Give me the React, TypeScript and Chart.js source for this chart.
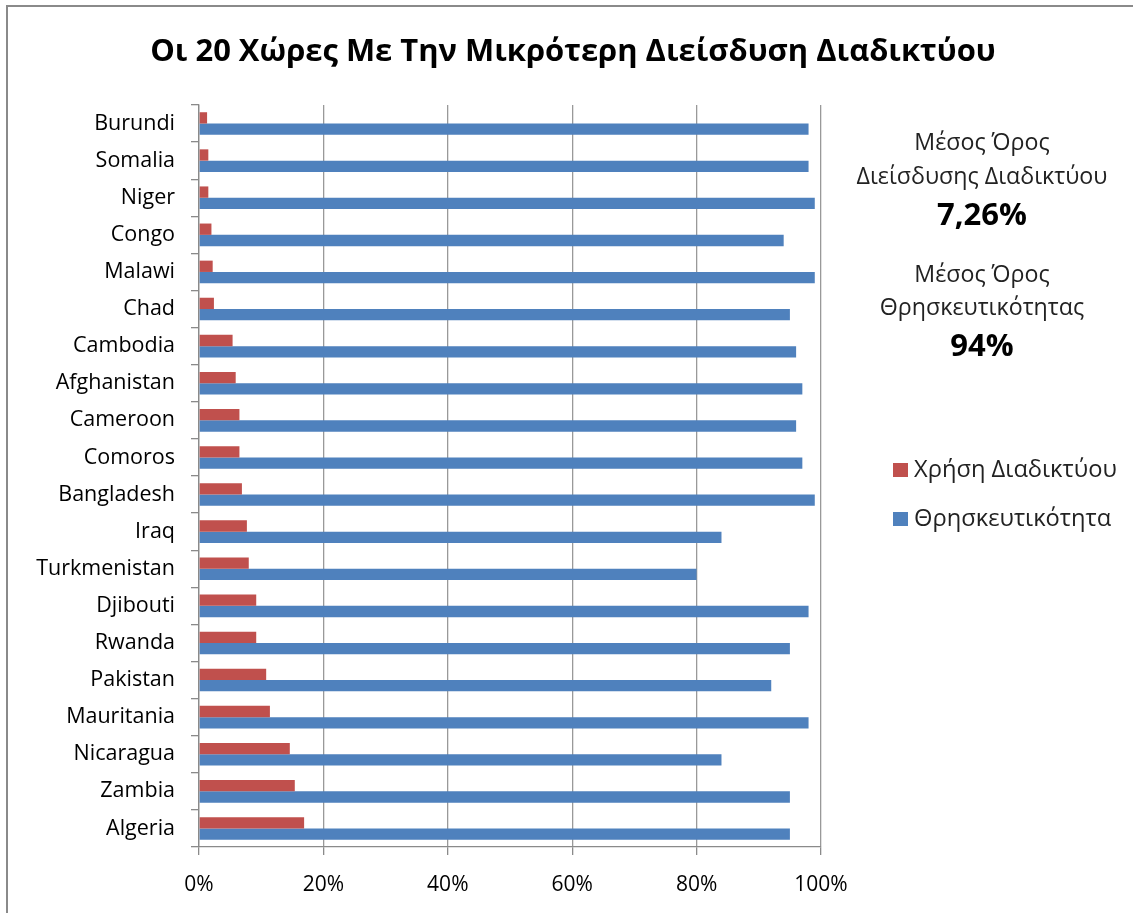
import React, { useEffect, useRef } from "react";
import { Chart, registerables } from "chart.js";

Chart.register(...registerables);

const chartTitle = "Οι 20 Χώρες Με Την Μικρότερη Διείσδυση Διαδικτύου";
const countries = [
  "Burundi", "Somalia", "Niger", "Congo", "Malawi", "Chad", "Cambodia",
  "Afghanistan", "Cameroon", "Comoros", "Bangladesh", "Iraq", "Turkmenistan",
  "Djibouti", "Rwanda", "Pakistan", "Mauritania", "Nicaragua", "Zambia", "Algeria",
];
const internetUse = [1.3, 1.5, 1.5, 2.0, 2.2, 2.4, 5.4, 5.9, 6.5, 6.5, 6.9, 7.7, 8.0, 9.2, 9.2, 10.8, 11.4, 14.6, 15.4, 16.9];
const religiosity = [98, 98, 99, 94, 99, 95, 96, 97, 96, 97, 99, 84, 80, 98, 95, 92, 98, 84, 95, 95];
const seriesLabels = ["Χρήση Διαδικτύου", "Θρησκευτικότητα"];
const seriesColors = ["#C0504D", "#4F81BD"];
const xTickStep = 20;
const xMax = 100;
const summaryLines = [
  { text: "Μέσος Όρος", bold: false },
  { text: "Διείσδυσης Διαδικτύου", bold: false },
  { text: "7,26%", bold: true },
  { text: "Μέσος Όρος", bold: false },
  { text: "Θρησκευτικότητας", bold: false },
  { text: "94%", bold: true },
];

const FONT = "'Open Sans', 'Noto Sans', sans-serif";

function fitSize(ctx: CanvasRenderingContext2D, text: string, weight: string, target: number) {
  ctx.font = `${weight} 100px ${FONT}`;
  const w = ctx.measureText(text).width;
  return (100 * target) / w;
}

const decorPlugin = {
  id: "decor",
  afterDraw(chart: any) {
    const ctx: CanvasRenderingContext2D = chart.ctx;
    ctx.save();
    // outer border
    ctx.fillStyle = "#8a8a8a";
    ctx.fillRect(6, 5, 1127, 2);
    ctx.fillRect(6, 5, 2, 908);

    // title
    const ts = fitSize(ctx, chartTitle, "bold", 846);
    ctx.font = `bold ${ts}px ${FONT}`;
    ctx.fillStyle = "#000";
    ctx.textAlign = "center";
    ctx.textBaseline = "middle";
    ctx.fillText(chartTitle, 573, 52);

    // summary text
    const cx = 982;
    const normalSize = fitSize(ctx, summaryLines[1].text, "normal", 251);
    const boldSize = fitSize(ctx, summaryLines[2].text, "bold", 90);
    const ys = [143, 177, 216, 275, 308, 347];
    summaryLines.forEach((l, i) => {
      ctx.font = l.bold ? `bold ${boldSize}px ${FONT}` : `normal ${normalSize}px ${FONT}`;
      ctx.fillStyle = l.bold ? "#000" : "#222";
      ctx.fillText(l.text, cx, ys[i]);
    });

    // legend
    const legendYs = [470, 519];
    const legSize = fitSize(ctx, seriesLabels[0], "normal", 203);
    chart.data.datasets.forEach((ds: any, i: number) => {
      const y = legendYs[i];
      ctx.fillStyle = ds.backgroundColor;
      ctx.fillRect(893, y - 7, 15, 14);
      ctx.font = `normal ${legSize}px ${FONT}`;
      ctx.fillStyle = "#222";
      ctx.textAlign = "left";
      ctx.fillText(ds.label, 914, y);
    });
    ctx.restore();
  },
};

export default function App() {
  const ref = useRef<HTMLCanvasElement>(null);
  useEffect(() => {
    if (!ref.current) return;
    const chart = new Chart(ref.current, {
      type: "bar",
      data: {
        labels: countries,
        datasets: [
          { label: seriesLabels[0], data: internetUse, backgroundColor: seriesColors[0] },
          { label: seriesLabels[1], data: religiosity, backgroundColor: seriesColors[1] },
        ],
      },
      options: {
        indexAxis: "y",
        responsive: false,
        animation: false,
        events: [],
        datasets: { bar: { categoryPercentage: 0.61, barPercentage: 1 } },
        layout: { padding: { left: 0, top: 105, right: 312, bottom: 16 } },
        plugins: { legend: { display: false }, title: { display: false }, tooltip: { enabled: false } },
        scales: {
          x: {
            min: 0,
            max: xMax,
            ticks: {
              stepSize: xTickStep,
              callback: (v: any) => `${v}%`,
              color: "#000",
              font: { family: FONT, size: 21 },
              padding: 17,
            },
            grid: { color: "#999999", lineWidth: 1.3, drawTicks: true, tickLength: 8, tickColor: "#8a8a8a" },
            border: { color: "#8a8a8a", width: 1.3 },
            afterFit: (s: any) => { s.height = 50; },
          },
          y: {
            ticks: { color: "#000", font: { family: FONT, size: 21.5 }, padding: 16, autoSkip: false },
            grid: { drawOnChartArea: false, drawTicks: true, tickLength: 8, color: "#8a8a8a", offset: true, lineWidth: 1.3 },
            border: { color: "#8a8a8a", width: 1.3 },
            afterFit: (s: any) => { s.width = 199; },
          },
        },
      },
      plugins: [decorPlugin],
    });
    return () => chart.destroy();
  }, []);
  return (
    <div style={{ position: "fixed", left: 0, top: 0, width: 1133, height: 913, background: "#fff" }}>
      <canvas ref={ref} width={1133} height={913} />
    </div>
  );
}
